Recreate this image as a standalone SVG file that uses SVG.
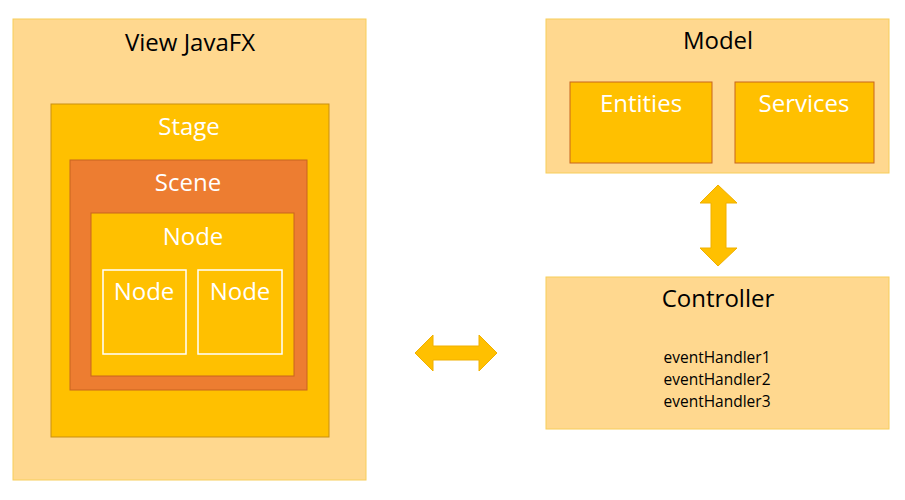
<svg xmlns="http://www.w3.org/2000/svg" width="905" height="500" viewBox="0 0 905 500">
<style>
.outer{fill:#FFD88F;stroke:#F7CE5A;stroke-width:1}
.gold{fill:#FFC000;stroke:#C98F10;stroke-width:1}
.scene{fill:#ED7D31;stroke:#C8651F;stroke-width:1}
.inner{fill:#FFC000;stroke:#FFFFFF;stroke-width:1.5}
.dk{font-family:"Open Sans","Liberation Sans",sans-serif;font-size:24px;fill:#000;text-anchor:middle}
.wt{font-family:"Open Sans","Liberation Sans",sans-serif;font-size:24px;fill:#FFFFFF;text-anchor:middle}
.sm{font-family:"Open Sans","Liberation Sans",sans-serif;font-size:15.5px;fill:#000;text-anchor:middle}
.arrow{fill:#FFC000;stroke:#F0B000;stroke-width:1}
</style>
<rect width="905" height="500" fill="#FFFFFF"/>
<g id="view">
<rect class="outer" x="13" y="19" width="353" height="461"/>
<text class="dk" x="190" y="51">View JavaFX</text>
</g>
<g id="stage">
<rect class="gold" x="51" y="104" width="278" height="333"/>
<text class="wt" x="189" y="135">Stage</text>
</g>
<g id="scene">
<rect class="scene" x="70" y="160" width="237" height="230"/>
<text class="wt" x="188" y="191">Scene</text>
</g>
<g id="node">
<rect class="gold" x="91" y="213" width="203" height="163" style="stroke:#C8651F"/>
<text class="wt" x="193" y="245">Node</text>
</g>
<g id="node1">
<rect class="inner" x="103" y="270" width="83" height="84"/>
<text class="wt" x="144" y="300">Node</text>
</g>
<g id="node2">
<rect class="inner" x="198" y="270" width="84" height="84"/>
<text class="wt" x="240" y="300">Node</text>
</g>
<g id="model">
<rect class="outer" x="546" y="19" width="343" height="154"/>
<text class="dk" x="718" y="49">Model</text>
</g>
<g id="entities">
<rect class="gold" x="570" y="82" width="142" height="81" style="stroke:#C8651F"/>
<text class="wt" x="641" y="112">Entities</text>
</g>
<g id="services">
<rect class="gold" x="735" y="82" width="139" height="81" style="stroke:#C8651F"/>
<text class="wt" x="804" y="112">Services</text>
</g>
<g id="controller">
<rect class="outer" x="546" y="277" width="343" height="152"/>
<text class="dk" x="718" y="307">Controller</text>
<text class="sm" x="717" y="363">eventHandler1</text>
<text class="sm" x="717" y="385">eventHandler2</text>
<text class="sm" x="717" y="407">eventHandler3</text>
</g>
<g id="connectors">
<polygon class="arrow" points="718,185 737,203 726,203 726,248 737,248 718,266 700,248 711,248 711,203 700,203"/>
<polygon class="arrow" points="415,353 433,335 433,346 479,346 479,335 497,353 479,371 479,360 433,360 433,371"/>
</g>
</svg>
